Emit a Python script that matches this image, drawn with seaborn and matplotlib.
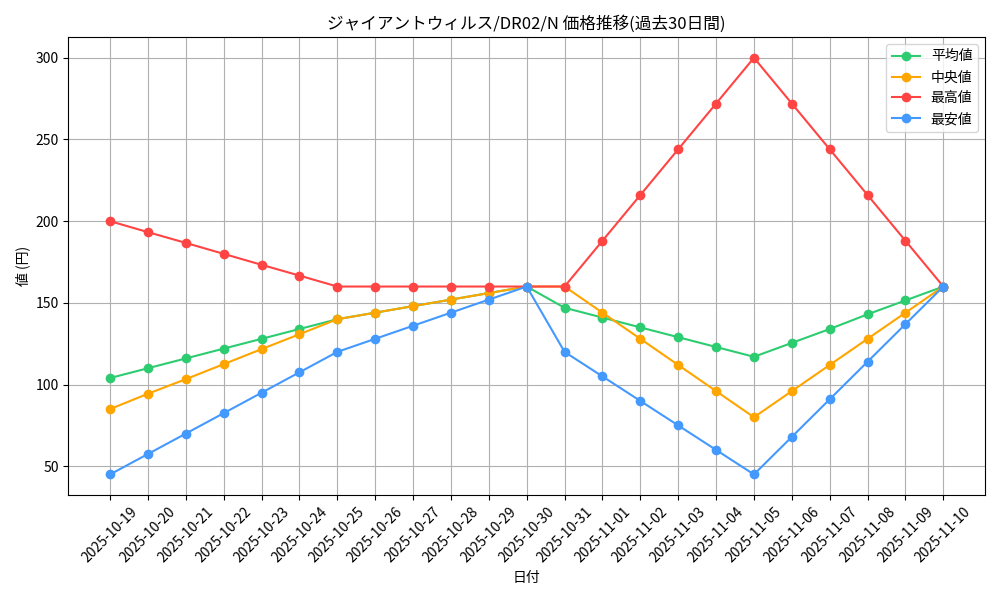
import numpy as np
import pandas as pd
import matplotlib
matplotlib.use("Agg")
import matplotlib.pyplot as plt
import seaborn as sns

dates = pd.date_range("2025-10-19", "2025-11-10", freq="D").strftime("%Y-%m-%d").tolist()

avg_price = [104, 110, 116, 122, 128, 134, 140, 144, 148, 152, 156, 160,
             147, 141, 135, 129, 123, 117, 125.5, 134, 143, 151.5, 160]
median_price = [85, 94.4, 103.3, 112.5, 121.7, 130.8, 140, 144, 148, 152, 156, 160,
                160, 144, 128, 112, 96, 80, 96, 112, 128, 144, 160]
max_price = [200, 193.3, 186.7, 180, 173.3, 166.7, 160, 160, 160, 160, 160, 160,
             160, 188, 216, 244, 272, 300, 272, 244, 216, 188, 160]
min_price = [45, 57.5, 70, 82.5, 95, 107.5, 120, 128, 136, 144, 152, 160,
             120, 105, 90, 75, 60, 45, 68, 91, 114, 137, 160]

series = {"平均値": avg_price, "中央値": median_price, "最高値": max_price, "最安値": min_price}
colors = {"平均値": "#2ecc71", "中央値": "#ffa500", "最高値": "#ff4444", "最安値": "#4499ff"}

plt.rcParams['font.family'] = ['Noto Sans CJK JP', 'DejaVu Sans']

df = pd.DataFrame(series, index=dates).reset_index(names="日付")
long_df = df.melt(id_vars="日付", var_name="種類", value_name="価格")

fig, ax = plt.subplots(figsize=(10, 6), dpi=100)
for name in series:
    sub = long_df[long_df["種類"] == name]
    sns.lineplot(data=sub, x="日付", y="価格", ax=ax, color=colors[name], marker="o",
                 markersize=7, markeredgewidth=0, linewidth=1.5, label=name, sort=False)

ax.grid(True, color="#b0b0b0", linewidth=0.8)
ax.set_axisbelow(True)
ax.set_xlabel("日付", fontsize=10)
ax.set_ylabel("値 (円)", fontsize=10)
ax.set_title("ジャイアントウィルス/DR02/N 価格推移(過去30日間)", fontsize=12)
plt.xticks(rotation=45)
ax.legend(loc="upper right")
plt.tight_layout()
plt.savefig("out.png")
